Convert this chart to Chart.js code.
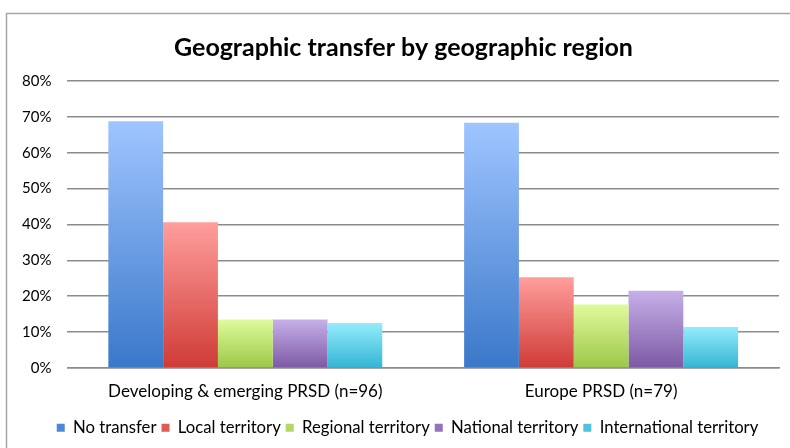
<!DOCTYPE html>
<html>
<head>
<meta charset="utf-8">
<script src="https://cdn.jsdelivr.net/npm/chart.js@4/dist/chart.umd.min.js"></script>
<style>
html,body{margin:0;padding:0;background:#fff;}
#wrap{position:relative;width:790px;height:448px;}
</style>
</head>
<body>
<div id="wrap"><canvas id="c" width="790" height="448"></canvas></div>
<script>
const categories = ["Developing & emerging PRSD (n=96)", "Europe PRSD (n=79)"];
const seriesNames = ["No transfer", "Local territory", "Regional territory", "National territory", "International territory"];
const noTransfer = [68.75, 68.35];
const localTerritory = [40.6, 25.3];
const regionalTerritory = [13.5, 17.7];
const nationalTerritory = [13.5, 21.5];
const internationalTerritory = [12.5, 11.4];
const yTicks = [0, 10, 20, 30, 40, 50, 60, 70, 80];

const topColors = ["#9fc5ff", "#ff9e9c", "#dffb9c", "#c6b0e8", "#95ecfb"];
const bottomColors = ["#3a78c9", "#cf3b36", "#9cc746", "#7d59a5", "#33b5d5"];
const solidColors = ["#4f86d6", "#e05a55", "#b2d866", "#9174bd", "#4cc4e0"];

const FONT = "'Lato', sans-serif";

function grad(i) {
  return function(ctx) {
    const chart = ctx.chart;
    if (!chart.chartArea || ctx.type !== 'data') return solidColors[i];
    const ys = chart.scales.y;
    const top = ys.getPixelForValue(ctx.raw);
    const bot = ys.getPixelForValue(0);
    if (!isFinite(top) || !isFinite(bot) || top === bot) return solidColors[i];
    const g = chart.ctx.createLinearGradient(0, top, 0, bot);
    g.addColorStop(0, topColors[i]);
    g.addColorStop(1, bottomColors[i]);
    return g;
  };
}

const allData = [noTransfer, localTerritory, regionalTerritory, nationalTerritory, internationalTerritory];

const framePlugin = {
  id: 'frame',
  afterLayout(chart) {
    if (chart.titleBlock) chart.titleBlock.left += 22;
    if (chart.legend) chart.legend.left += 30;
  },
  afterDraw(chart) {
    const c = chart.ctx;
    c.save();
    c.strokeStyle = '#a6a6a6';
    c.lineWidth = 1.5;
    c.beginPath();
    c.moveTo(6.5, 460);
    c.lineTo(6.5, 13.5);
    c.lineTo(800, 13.5);
    c.stroke();
    c.restore();
  }
};

new Chart(document.getElementById('c'), {
  type: 'bar',
  data: {
    labels: categories,
    datasets: seriesNames.map((n, i) => ({
      label: n,
      data: allData[i],
      backgroundColor: grad(i),
      borderWidth: 0,
      categoryPercentage: 0.77,
      barPercentage: 1.0
    }))
  },
  options: {
    responsive: false,
    animation: false,
    devicePixelRatio: 1,
    layout: { padding: { left: 6, right: 11, top: 33, bottom: 2 } },
    plugins: {
      title: {
        display: true,
        text: 'Geographic transfer by geographic region',
        color: '#000',
        font: { family: FONT, size: 25, weight: 'bold' },
        padding: { top: 0, bottom: 18 }
      },
      legend: {
        position: 'bottom',
        labels: {
          color: '#000',
          font: { family: FONT, size: 16.7 },
          boxWidth: 8,
          boxHeight: 8,
          padding: 5,
          generateLabels(chart) {
            return seriesNames.map((n, i) => ({
              text: n,
              fillStyle: solidColors[i],
              strokeStyle: solidColors[i],
              lineWidth: 0,
              datasetIndex: i,
              hidden: false
            }));
          }
        }
      },
      tooltip: { enabled: false }
    },
    scales: {
      x: {
        grid: { display: false, drawTicks: false },
        border: { display: true, color: '#8c8c8c', width: 1.5 },
        ticks: { color: '#000', font: { family: FONT, size: 17 }, padding: 13 }
      },
      y: {
        min: 0,
        max: 80,
        afterBuildTicks(axis) { axis.ticks = yTicks.map(v => ({ value: v })); },
        grid: { color: '#8c8c8c', lineWidth: 1.5, drawTicks: false },
        border: { display: false },
        ticks: {
          color: '#000',
          font: { family: FONT, size: 15 },
          padding: 16,
          callback: v => v + '%'
        }
      }
    }
  },
  plugins: [framePlugin]
});
</script>
</body>
</html>
